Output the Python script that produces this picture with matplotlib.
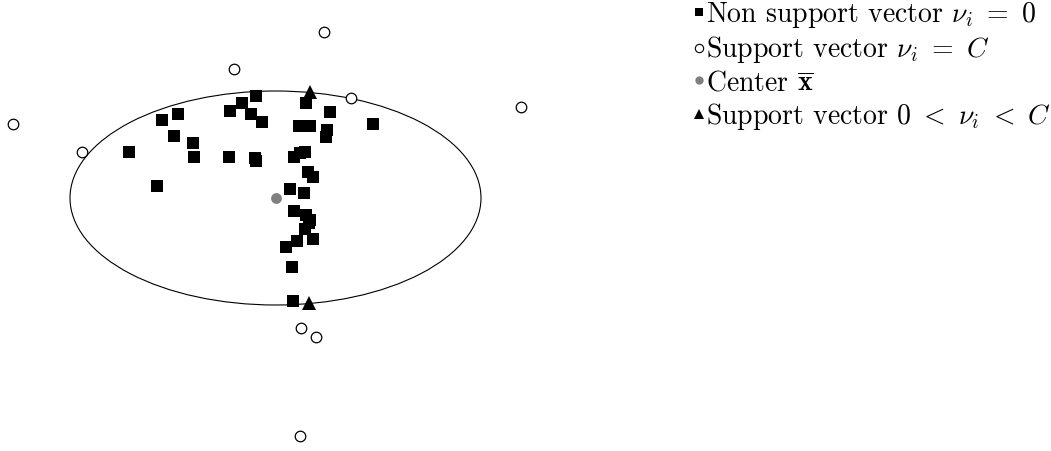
import matplotlib
matplotlib.use("Agg")
import matplotlib.pyplot as plt
from matplotlib.patches import Ellipse
from matplotlib.lines import Line2D

# point positions (picture units, y downwards)
inner_x = [255.7, 242.3, 230.0, 250.7, 261.7, 305.7, 330.0, 298.7, 310.0, 326.7,
           325.7, 373.3, 161.7, 178.3, 174.0, 192.7, 194.0, 129.0, 229.0, 255.0,
           256.0, 294.3, 305.0, 300.0, 307.7, 312.7, 156.7, 290.0, 304.3, 294.3,
           305.7, 310.0, 309.0, 305.0, 313.3, 297.3, 285.7, 291.7, 292.7]
inner_y = [96.0, 103.3, 111.0, 114.3, 122.3, 103.3, 112.3, 126.0, 126.0, 130.0,
           136.7, 124.0, 120.0, 114.0, 135.7, 142.7, 156.7, 151.7, 156.7, 158.3,
           160.5, 157.3, 152.3, 153.0, 172.3, 177.3, 186.3, 189.0, 193.3, 210.7,
           215.0, 220.0, 222.5, 229.0, 239.0, 241.0, 246.7, 266.7, 300.7]

outer_x = [324.3, 234.3, 12.7, 81.7, 351.0, 521.3, 301.0, 315.7, 300.0]
outer_y = [31.7, 69.3, 124.3, 151.7, 98.3, 107.3, 327.7, 336.7, 435.7]

bound_x = [310.0, 308.7]
bound_y = [91.7, 302.7]

center = (275.5, 198.0)
axes_len = (411.0, 214.0)

labels = [r"Non support vector $\nu_i\ =\ 0$",
          r"Support vector $\nu_i\ =\ C$",
          r"Center $\overline{\mathbf{x}}$",
          r"Support vector $0\ <\ \nu_i\ <\ C$"]

plt.rcParams.update({"font.family": "serif", "font.serif": ["cmr10"],
                     "mathtext.fontset": "cm", "axes.unicode_minus": False})

fig = plt.figure(figsize=(10.51, 4.51), dpi=100)
ax = fig.add_axes([0, 0, 1, 1])
ax.set_xlim(0, 1051)
ax.set_ylim(451, 0)
ax.axis("off")

ax.add_patch(Ellipse(center, axes_len[0], axes_len[1], fill=False,
                     edgecolor="black", lw=0.8, zorder=1))

ax.plot(inner_x, inner_y, "s", color="black", ms=8.0, mew=0, zorder=3)
ax.plot(outer_x, outer_y, "o", mfc="white", mec="black", ms=7.6, mew=0.9, zorder=2)
ax.plot([center[0]], [center[1]], "o", color="#808080", ms=7.8, mew=0, zorder=4)
ax.plot(bound_x, bound_y, "^", color="black", ms=9.8, mew=0, zorder=4)

handles = [
    Line2D([], [], ls="none", marker="s", color="black", ms=6, mew=0),
    Line2D([], [], ls="none", marker="o", mfc="white", mec="black", ms=6, mew=0.8),
    Line2D([], [], ls="none", marker="o", color="#808080", ms=6, mew=0),
    Line2D([], [], ls="none", marker="^", color="black", ms=7, mew=0),
]
leg = ax.legend(handles, labels, loc="upper left", bbox_to_anchor=(0.661, 1.0),
                frameon=False, fontsize=20, handlelength=0.3, handletextpad=0.12,
                labelspacing=0.16, borderaxespad=0, borderpad=0)

fig.savefig("out.png", dpi=100)
